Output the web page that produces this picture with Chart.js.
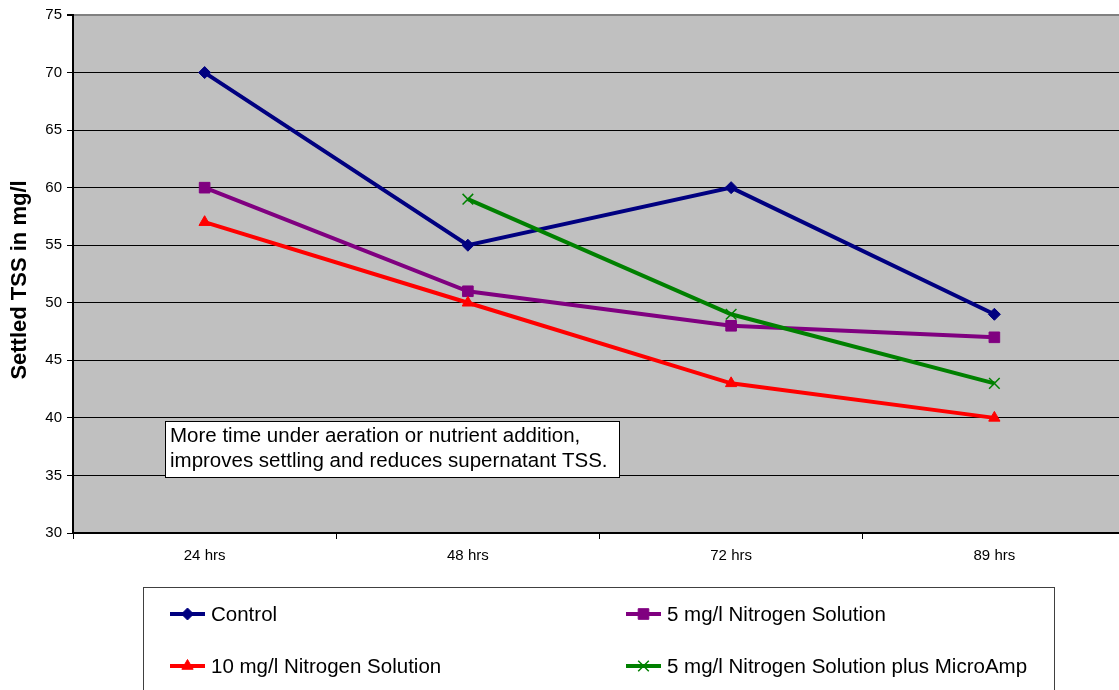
<!DOCTYPE html>
<html>
<head>
<meta charset="utf-8">
<script src="https://cdn.jsdelivr.net/npm/chart.js@4/dist/chart.umd.min.js"></script>
<style>
  html, body { margin: 0; padding: 0; background: #ffffff; width: 1119px; height: 690px; overflow: hidden; }
  #wrap { width: 1135px; height: 690px; position: relative; }
  canvas { display: block; }
</style>
</head>
<body>
<div id="wrap"><canvas id="c" width="1135" height="690" style="width:1135px;height:690px"></canvas></div>
<script>
// Settled TSS over time for each treatment
const categories = ['24 hrs', '48 hrs', '72 hrs', '89 hrs'];
const controlValues = [70, 55, 60, 49];
const nitrogen5Values = [60, 51, 48, 47];
const nitrogen10Values = [57, 50, 43, 40];
const microAmpValues = [null, 59, 49, 43];

const seriesNames = [
  'Control',
  '5 mg/l Nitrogen Solution',
  '10 mg/l Nitrogen Solution',
  '5 mg/l Nitrogen Solution plus MicroAmp'
];
const yMin = 30, yMax = 75, yStep = 5;
const yTitle = 'Settled TSS in mg/l';
const noteLines = [
  'More time under aeration or nutrient addition,',
  'improves settling and reduces supernatant TSS.'
];

const FONT = "'Liberation Sans', Arial, sans-serif";

// Grey plot background
const plotBackground = {
  id: 'plotBackground',
  beforeDraw(chart) {
    const { ctx, chartArea: a } = chart;
    ctx.save();
    ctx.fillStyle = '#c0c0c0';
    ctx.fillRect(a.left, a.top, a.right - a.left, a.bottom - a.top);
    ctx.restore();
  }
};

// Rotated value-axis title
const axisTitle = {
  id: 'axisTitle',
  afterDraw(chart) {
    const { ctx } = chart;
    ctx.save();
    ctx.translate(20, 280);
    ctx.rotate(-Math.PI / 2);
    ctx.font = 'bold 22px ' + FONT;
    ctx.fillStyle = '#000';
    ctx.textAlign = 'center';
    ctx.textBaseline = 'middle';
    ctx.fillText(yTitle, 0, 0);
    ctx.restore();
  }
};

// Text note inside the plot
const noteBox = {
  id: 'noteBox',
  afterDatasetsDraw(chart) {
    const { ctx } = chart;
    ctx.save();
    ctx.fillStyle = '#ffffff';
    ctx.fillRect(165.5, 421.5, 454, 56);
    ctx.strokeStyle = '#000';
    ctx.lineWidth = 1;
    ctx.strokeRect(165.5, 421.5, 454, 56);
    ctx.font = '20.5px ' + FONT;
    ctx.fillStyle = '#000';
    ctx.textAlign = 'left';
    ctx.textBaseline = 'middle';
    ctx.fillText(noteLines[0], 170, 436);
    ctx.fillText(noteLines[1], 170, 461);
    ctx.restore();
  }
};

// Two-column boxed legend below the chart
const boxLegend = {
  id: 'boxLegend',
  afterDraw(chart) {
    const { ctx } = chart;
    ctx.save();
    ctx.fillStyle = '#ffffff';
    ctx.fillRect(143.5, 587.5, 911, 120);
    ctx.strokeStyle = '#404040';
    ctx.lineWidth = 1;
    ctx.strokeRect(143.5, 587.5, 911, 120);
    const colX = [170, 626];
    const rowY = [614, 666];
    chart.data.datasets.forEach((ds, i) => {
      const x = colX[i % 2];
      const y = rowY[Math.floor(i / 2)];
      ctx.strokeStyle = ds.borderColor;
      ctx.lineWidth = 4;
      ctx.beginPath();
      ctx.moveTo(x, y);
      ctx.lineTo(x + 35, y);
      ctx.stroke();
      ctx.fillStyle = ds.pointBackgroundColor;
      ctx.strokeStyle = ds.pointBorderColor;
      ctx.lineWidth = ds.pointBorderWidth;
      Chart.helpers.drawPoint(ctx, {
        pointStyle: ds.pointStyle,
        radius: ds.pointRadius,
        rotation: 0,
        borderWidth: ds.pointBorderWidth
      }, x + 17.5, y);
      ctx.fillStyle = '#000';
      ctx.font = '20.5px ' + FONT;
      ctx.textAlign = 'left';
      ctx.textBaseline = 'middle';
      ctx.fillText(ds.label, x + 41, y + 1);
    });
    ctx.restore();
  }
};

function series(label, values, color, style, radius, borderW, order) {
  return {
    label,
    data: values,
    borderColor: color,
    backgroundColor: color,
    borderWidth: 4,
    pointStyle: style,
    pointRadius: radius,
    pointHoverRadius: radius,
    pointBackgroundColor: color,
    pointBorderColor: color,
    pointBorderWidth: borderW,
    tension: 0,
    spanGaps: false,
    order
  };
}

new Chart(document.getElementById('c'), {
  type: 'line',
  data: {
    labels: categories,
    datasets: [
      series(seriesNames[0], controlValues, '#000080', 'rectRot', 6, 1, 4),
      series(seriesNames[1], nitrogen5Values, '#800080', 'rect', 7.5, 1, 3),
      series(seriesNames[2], nitrogen10Values, '#ff0000', 'triangle', 6.5, 1, 2),
      series(seriesNames[3], microAmpValues, '#008000', 'crossRot', 7.5, 1.5, 1)
    ]
  },
  options: {
    responsive: false,
    maintainAspectRatio: false,
    devicePixelRatio: 1,
    animation: false,
    events: [],
    layout: { padding: { top: 15, left: 0, right: 0, bottom: 0 } },
    plugins: {
      legend: { display: false },
      tooltip: { enabled: false },
      title: { display: false }
    },
    scales: {
      x: {
        type: 'category',
        offset: true,
        afterFit(scale) { scale.height = 157; },
        grid: {
          offset: true,
          drawOnChartArea: false,
          drawTicks: true,
          tickLength: 6,
          tickColor: '#000',
          color: '#000'
        },
        border: { display: true, color: '#000', width: 2 },
        ticks: {
          color: '#000',
          font: { family: FONT, size: 15 },
          padding: 8,
          maxRotation: 0,
          autoSkip: false
        }
      },
      y: {
        min: yMin,
        max: yMax,
        afterFit(scale) { scale.width = 73; },
        grid: {
          drawOnChartArea: true,
          drawTicks: true,
          tickLength: 6,
          tickColor: '#000',
          color: (c) => (c.tick && c.tick.value === yMax ? '#808080' : '#000'),
          lineWidth: (c) => (c.tick && c.tick.value === yMax ? 2 : 1)
        },
        border: { display: true, color: '#000', width: 2 },
        ticks: {
          stepSize: yStep,
          color: '#000',
          font: { family: FONT, size: 15 },
          padding: 5
        }
      }
    }
  },
  plugins: [plotBackground, noteBox, boxLegend, axisTitle]
});
</script>
</body>
</html>
